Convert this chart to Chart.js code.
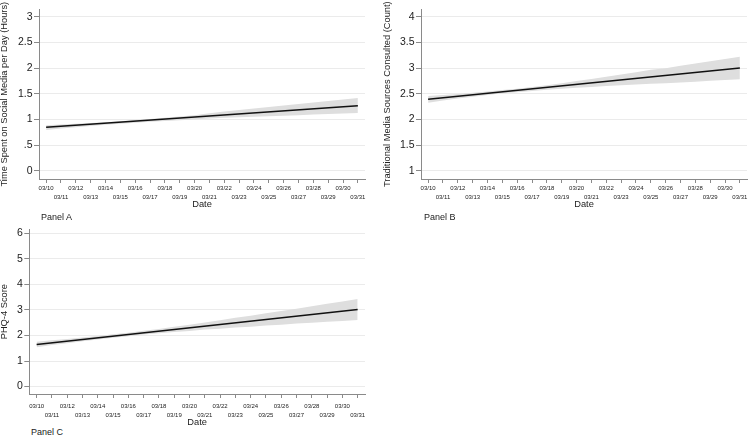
<!DOCTYPE html>
<html>
<head>
<meta charset="utf-8">
<script src="https://cdn.jsdelivr.net/npm/chart.js@4.4.1/dist/chart.umd.min.js"></script>
<style>
  html, body { margin: 0; padding: 0; background: #fff; }
  body { width: 750px; height: 440px; position: relative; overflow: hidden; font-family: "Liberation Sans", Arial, sans-serif; }
  canvas { position: absolute; }
  .panel { position: absolute; font-size: 9px; color: #222; line-height: 1; }
</style>
</head>
<body>
<canvas id="cA" width="375" height="209" style="left:0;top:0"></canvas>
<canvas id="cB" width="367" height="209" style="left:383px;top:0"></canvas>
<canvas id="cC" width="375" height="207" style="left:0;top:220px"></canvas>
<div class="panel" style="left:41px;top:213px">Panel A</div>
<div class="panel" style="left:424px;top:213px">Panel B</div>
<div class="panel" style="left:31px;top:428px">Panel C</div>
<script>
// ---- data ----
const days = [10,11,12,13,14,15,16,17,18,19,20,21,22,23,24,25,26,27,28,29,30,31];
const dateLabels = ['03/10','03/11','03/12','03/13','03/14','03/15','03/16','03/17','03/18','03/19','03/20',
                    '03/21','03/22','03/23','03/24','03/25','03/26','03/27','03/28','03/29','03/30','03/31'];

// fitted (straight) line: value at first and last day
const lineDays = [10, 31];
const lineA  = [0.845, 1.266];
const lineB  = [2.39, 3.00];
const lineC  = [1.65, 3.02];

// confidence band, per day
const upperA = [0.885,0.898,0.912,0.928,0.945,0.964,0.985,1.007,1.031,1.056,1.082,1.121,1.151,1.18,1.21,1.239,1.268,1.298,1.327,1.356,1.386,1.415];
const lowerA = [0.795,0.822,0.848,0.872,0.895,0.916,0.935,0.953,0.969,0.984,0.998,1.019,1.029,1.04,1.05,1.061,1.072,1.082,1.093,1.104,1.114,1.125];

const upperB = [2.455,2.475,2.496,2.52,2.545,2.573,2.594,2.628,2.665,2.704,2.745,2.788,2.832,2.876,2.92,2.964,2.998,3.042,3.086,3.13,3.175,3.22];
const lowerB = [2.325,2.365,2.404,2.44,2.475,2.507,2.526,2.552,2.575,2.596,2.615,2.632,2.648,2.664,2.68,2.696,2.702,2.718,2.734,2.75,2.765,2.78];

const upperC = [1.76,1.815,1.863,1.924,1.978,2.046,2.108,2.184,2.255,2.34,2.42,2.51,2.595,2.69,2.775,2.87,2.955,3.05,3.14,3.24,3.33,3.43];
const lowerC = [1.54,1.625,1.697,1.776,1.842,1.914,1.972,2.036,2.085,2.14,2.18,2.23,2.265,2.31,2.345,2.39,2.425,2.47,2.5,2.54,2.57,2.61];

const yTicksA = [0, 0.5, 1, 1.5, 2, 2.5, 3];
const yTicksB = [1, 1.5, 2, 2.5, 3, 3.5, 4];
const yTicksC = [0, 1, 2, 3, 4, 5, 6];

const titleA = 'Time Spent on Social Media per Day (Hours)';
const titleB = 'Traditional Media Sources Consulted (Count)';
const titleC = 'PHQ-4 Score';
const xTitle = 'Date';

// ---- helpers ----
const FONT = '"Liberation Sans", Arial, sans-serif';
const AXIS = '#8a8a8a';
const TXT = '#222';

function pts(xs, vals) { return xs.map((d, i) => ({x: d, y: vals[i]})); }
function fmtY(v) {
  if (v > 0 && v < 1) return String(v).replace(/^0/, '');
  return String(v);
}

function makeChart(id, line, upper, lower, yTicks, yMin, yMax, yTitle, yWidth, padTop, padRight, xLblPad, xHeight) {
  const ctx = document.getElementById(id);
  return new Chart(ctx, {
    type: 'line',
    data: {
      datasets: [
        { data: pts(days, upper), borderWidth: 0, borderColor: 'rgba(0,0,0,0)', backgroundColor: '#dedede',
          pointRadius: 0, fill: '+1', tension: 0, order: 2 },
        { data: pts(days, lower), borderWidth: 0, borderColor: 'rgba(0,0,0,0)', pointRadius: 0, fill: false, tension: 0, order: 2 },
        { data: pts(lineDays, line), borderWidth: 1.5, borderColor: '#111', pointRadius: 0, fill: false, tension: 0, order: 1 }
      ]
    },
    options: {
      responsive: false,
      animation: false,
      devicePixelRatio: 1,
      layout: { padding: { top: padTop, right: padRight, left: 0, bottom: 0 } },
      plugins: { legend: { display: false }, tooltip: { enabled: false } },
      scales: {
        x: {
          type: 'linear', min: 9.52, max: 31.48,
          afterBuildTicks: (s) => { s.ticks = days.map(d => ({ value: d })); },
          afterFit: (s) => { s.height = xHeight; },
          border: { color: AXIS, width: 1 },
          grid: { drawOnChartArea: false, drawTicks: true, tickLength: 4, tickColor: AXIS, tickWidth: 1 },
          ticks: {
            autoSkip: false, maxRotation: 0, minRotation: 0, padding: xLblPad,
            color: TXT, font: { family: FONT, size: 6, lineHeight: 1.5 },
            callback: (v) => {
              const i = days.indexOf(v);
              if (i < 0) return '';
              return (i % 2 === 0) ? [dateLabels[i], ''] : ['', dateLabels[i]];
            }
          },
          title: { display: true, text: xTitle, color: TXT, font: { family: FONT, size: 9.3, lineHeight: 1 }, padding: { top: 0, bottom: 0 } }
        },
        y: {
          type: 'linear', min: yMin, max: yMax,
          afterBuildTicks: (s) => { s.ticks = yTicks.map(v => ({ value: v })); },
          afterFit: (s) => { s.width = yWidth; },
          border: { color: AXIS, width: 1 },
          grid: { color: '#ebebeb', lineWidth: 1, drawTicks: true, tickLength: 5, tickColor: AXIS, tickWidth: 1 },
          ticks: { padding: 1.5, color: TXT, font: { family: FONT, size: 10.5 }, callback: (v) => fmtY(v) },
          title: { display: true, text: yTitle, color: TXT, font: { family: FONT, size: 9.3, lineHeight: 1 }, padding: { top: 0, bottom: 0 } }
        }
      }
    }
  });
}

makeChart('cA', lineA, upperA, lowerA, yTicksA, -0.162, 3.144, titleA, 39, 9.3, 10, 0.5, 30);
makeChart('cB', lineB, upperB, lowerB, yTicksB, 0.838, 4.144, titleB, 38, 9.3, 3, 0.5, 30);
makeChart('cC', lineC, upperC, lowerC, yTicksC, -0.29, 6.157, titleC, 29.3, 9.3, 10, 3.5, 33);
</script>
</body>
</html>
